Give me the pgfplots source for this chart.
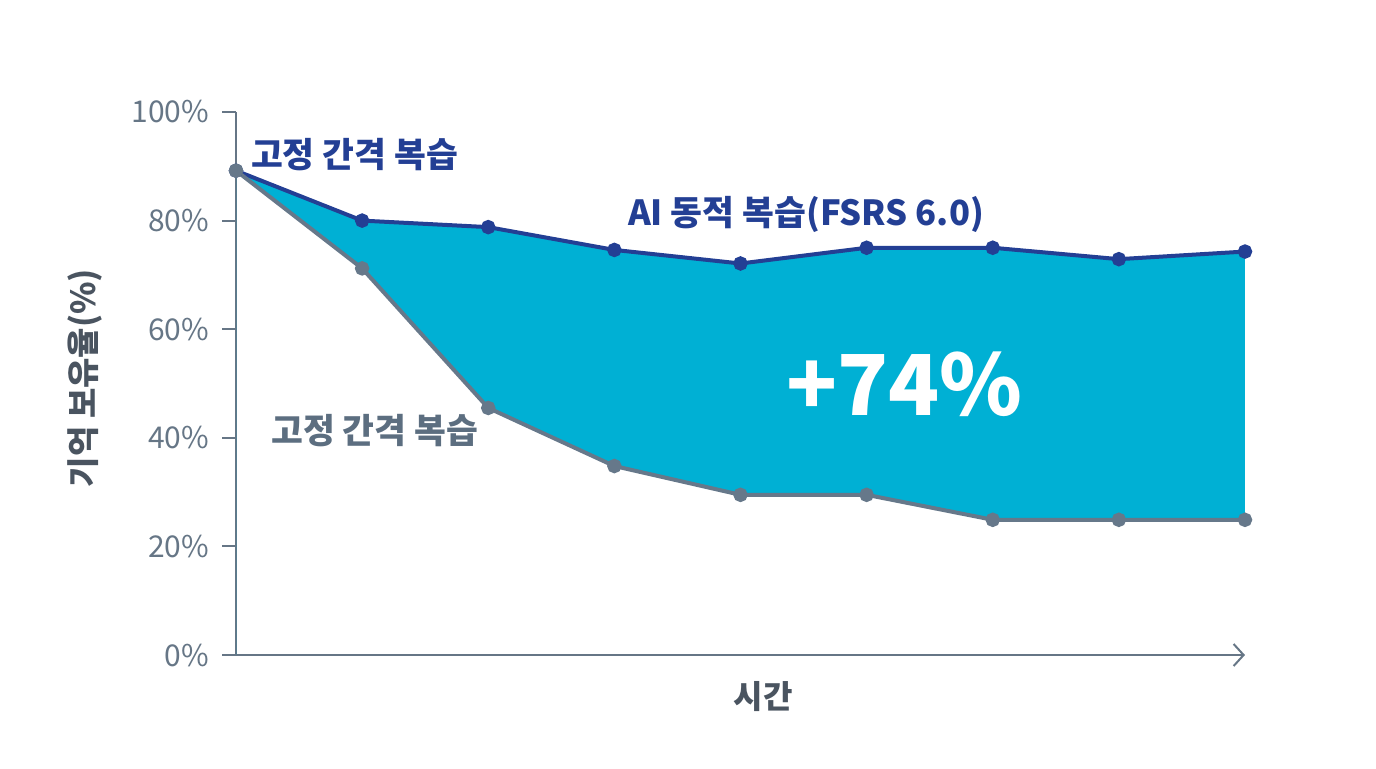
\documentclass[border=0pt]{standalone}
\usepackage{fontspec}
\setmainfont{Noto Sans CJK KR}
\usepackage{pgfplots}
\pgfplotsset{compat=1.18}
\usetikzlibrary{arrows.meta}
\definecolor{fillc}{RGB}{0,176,212}
\definecolor{upc}{RGB}{35,63,148}
\definecolor{loc}{RGB}{102,120,138}
\definecolor{tickc}{RGB}{102,118,134}
\definecolor{labc}{RGB}{74,84,96}
\definecolor{grayt}{RGB}{92,110,128}
\begin{document}
\begin{tikzpicture}
\path[use as bounding box] (0,0) rectangle (688pt,384pt);
\begin{axis}[
  at={(118pt,56.5pt)}, anchor=south west,
  scale only axis, width=504.5pt, height=271.5pt,
  xmin=0, xmax=8, ymin=0, ymax=100,
  axis x line=bottom, axis y line=left,
  x axis line style={-{Straight Barb[length=5pt,width=11pt,line width=1pt]}},
  y axis line style={-},
  axis line style={draw=tickc, line width=1pt},
  xtick=\empty,
  ytick={0,20,40,60,80,100},
  yticklabel={\pgfmathprintnumber{\tick}\%},
  /pgf/number format/assume math mode=true,
  tick align=outside, major tick length=7pt,
  tick style={draw=tickc, line width=1pt},
  yticklabel style={font=\fontsize{15}{17}\selectfont, color=tickc, xshift=-3pt},
  clip=false,
]
% area between the two series (upper points, then lower points in reverse)
\addplot[fill=fillc, draw=none] coordinates {
(0,89.2) (1,80.0) (2,78.8) (3,74.6) (4,72.1) (5,75.0) (6,75.0) (7,72.9) (8,74.3)
(8,24.9) (7,24.9) (6,24.9) (5,29.5) (4,29.5) (3,34.8) (2,45.5) (1,71.2) (0,89.2)
} \closedcycle;
\addplot[color=upc, line width=2pt, mark=*, mark size=2.6pt] coordinates {
(0,89.2) (1,80.0) (2,78.8) (3,74.6) (4,72.1) (5,75.0) (6,75.0) (7,72.9) (8,74.3)};
\addplot[color=loc, line width=2pt, mark=*, mark size=2.6pt] coordinates {
(0,89.2) (1,71.2) (2,45.5) (3,34.8) (4,29.5) (5,29.5) (6,24.9) (7,24.9) (8,24.9)};
\addplot[color=loc, only marks, mark=*, mark size=3.2pt] coordinates {(0,89.2)};
\node[font=\bfseries\fontsize{17.3}{20}\selectfont, color=upc] at (axis cs:0.94,92.1) {고정 간격 복습};
\node[font=\bfseries\fontsize{17.3}{20}\selectfont, color=upc] at (axis cs:4.52,81.2) {AI 동적 복습(FSRS 6.0)};
\node[font=\bfseries\fontsize{17.3}{20}\selectfont, color=grayt] at (axis cs:1.10,41.3) {고정 간격 복습};
\node[font=\bfseries\fontsize{42}{50}\selectfont, color=white] at (axis cs:5.30,49.9) {+74\%};
\node[font=\bfseries\fontsize{16}{19}\selectfont, color=labc] at (axis cs:4.18,-7.7) {시간};
\node[rotate=90, font=\bfseries\fontsize{16.5}{19}\selectfont, color=labc] at (axis cs:-1.2,51) {기억 보유율(\%)};
\end{axis}
\end{tikzpicture}
\end{document}
